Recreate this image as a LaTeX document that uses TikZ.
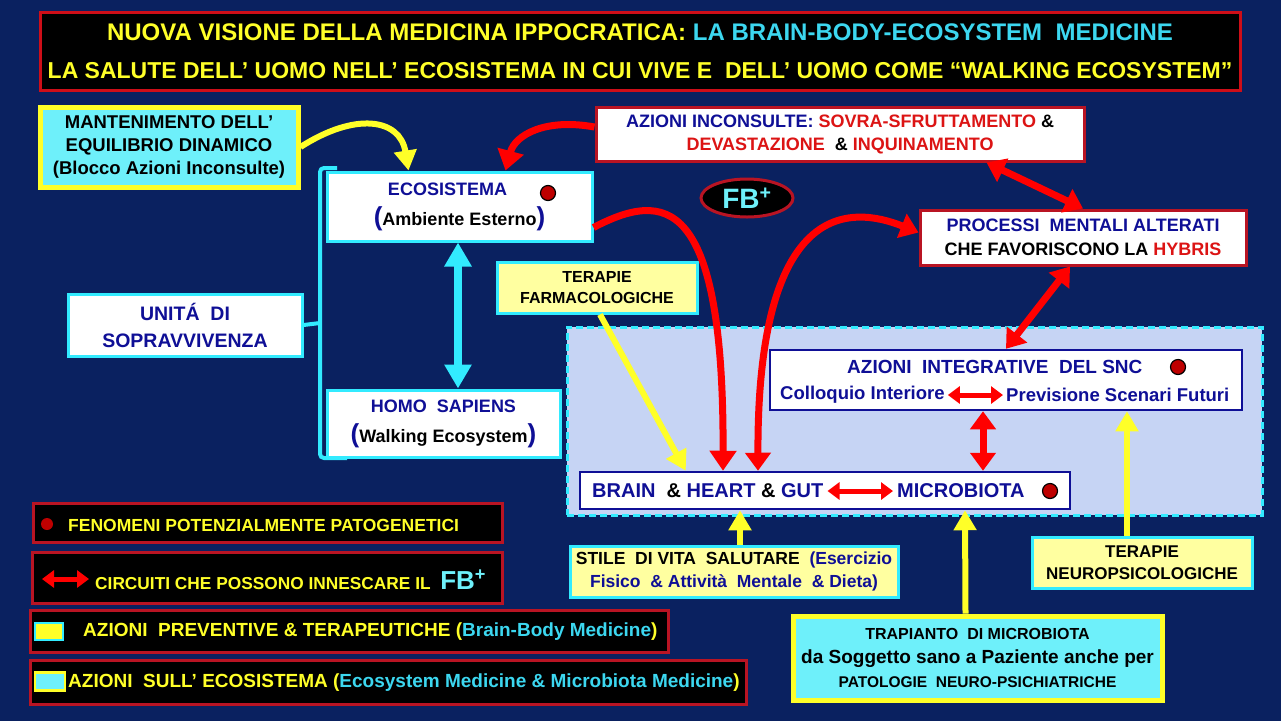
\documentclass[tikz,border=0pt]{standalone}
\usepackage{fontspec}
\setmainfont{Liberation Sans}
\usetikzlibrary{arrows.meta,shapes.geometric,positioning}

% --------- COLORI ----------
\definecolor{fondo}{RGB}{10,33,96}
\definecolor{giallo}{RGB}{255,255,40}
\definecolor{ciano}{RGB}{50,235,255}
\definecolor{cianotxt}{RGB}{60,215,240}
\definecolor{blu}{RGB}{15,15,150}
\definecolor{rosso}{RGB}{255,0,0}
\definecolor{rossotxt}{RGB}{220,20,20}
\definecolor{bordeaux}{RGB}{185,20,35}
\definecolor{giallino}{RGB}{255,255,160}
\definecolor{azzurrino}{RGB}{110,240,250}
\definecolor{lilla}{RGB}{198,212,244}
\definecolor{puntorosso}{RGB}{190,0,0}

\newcommand{\dimtesto}[2]{\fontsize{#1}{#2}\selectfont}
\newcommand{\parente}[1]{{\color{blu}\dimtesto{26}{30}#1}}

\tikzset{
  % riquadri
  bianco/.style={draw=ciano,line width=3pt,fill=white,align=center,inner sep=0pt},
  biancorosso/.style={draw=bordeaux,line width=3pt,fill=white,align=center,inner sep=0pt},
  biancoblu/.style={draw=blu,line width=2.5pt,fill=white,inner sep=0pt},
  terapia/.style={draw=ciano,line width=3pt,fill=giallino,align=center,inner sep=0pt},
  trapbox/.style={draw=giallo,line width=5pt,fill=azzurrino,align=center,inner sep=0pt},
  legenda/.style={draw=bordeaux,line width=3pt,fill=black,inner sep=0pt},
  testo/.style={inner sep=0pt,anchor=west},
  punto/.style={circle,draw=black,line width=1.2pt,fill=puntorosso,minimum size=15pt,inner sep=0pt},
  % frecce
  frossa/.style={rosso,line width=7pt,-{Triangle[length=20pt,width=26pt]}},
  frossadoppia/.style={rosso,line width=7pt,{Triangle[length=18pt,width=25pt]}-{Triangle[length=18pt,width=25pt]}},
  fpiccola/.style={rosso,line width=5pt,{Triangle[length=12pt,width=17pt]}-{Triangle[length=12pt,width=17pt]}},
  fgialla/.style={giallo,line width=6pt,-{Triangle[length=20pt,width=22pt]}},
  fciano/.style={ciano,line width=8pt,{Triangle[length=24pt,width=26pt]}-{Triangle[length=24pt,width=26pt]}},
}

\begin{document}
\begin{tikzpicture}[x=1pt,y=-1pt,font=\bfseries]

% --------- SFONDO ----------
\fill[fondo] (0,0) rectangle (1281,721);
\useasboundingbox (0,0) rectangle (1281,721);

% Titolo
\node[legenda,draw=bordeaux!70!red,minimum width=1200,minimum height=78,align=center,
      text=giallo,font=\bfseries\dimtesto{23}{38}] (titolo) at (640,51)
 {{\dimtesto{24}{38}NUOVA VISIONE DELLA MEDICINA IPPOCRATICA: \textcolor{cianotxt}{LA BRAIN-BODY-ECOSYSTEM\ \ MEDICINE}}\\
  LA SALUTE DELL’ UOMO NELL’ ECOSISTEMA IN CUI VIVE E\ \ DELL’ UOMO COME “WALKING ECOSYSTEM”};

% Graffa (unita' di sopravvivenza)
\draw[ciano,line width=4pt,rounded corners=4pt] (337,168) -- (320,168) -- (320,458) -- (347,458);
\coordinate (graffa) at (320,323);

% Pannello azzurro tratteggiato
\node[draw=ciano,line width=3pt,dash pattern=on 7pt off 4pt,fill=lilla,
      minimum width=695,minimum height=188,inner sep=0pt] (pannello) at (914.5,421) {};

% --------- RIQUADRI ----------
\node[trapbox,minimum width=258,minimum height=80,font=\bfseries\dimtesto{18.5}{23}] (mantenimento) at (169,147)
 {MANTENIMENTO DELL’\\EQUILIBRIO DINAMICO\\(Blocco Azioni Inconsulte)};

\node[bianco,minimum width=265,minimum height=69,font=\bfseries\dimtesto{18}{30}] (ecosistema) at (459.5,206.5)
 {\textcolor{blu}{ECOSISTEMA}\hspace*{24pt}\\\parente{(}Ambiente Esterno\parente{)}};
\node[punto] (puntoeco) at (548,193) {};

\node[bianco,minimum width=233,minimum height=67,font=\bfseries\dimtesto{18}{30}] (homo) at (443.5,423.5)
 {\textcolor{blu}{HOMO\ \ SAPIENS}\\\parente{(}Walking Ecosystem\parente{)}};

\node[bianco,minimum width=234,minimum height=62,text=blu,font=\bfseries\dimtesto{19.5}{27}] (unita) at (185,325)
 {UNITÁ\ \ DI\\SOPRAVVIVENZA};
\draw[ciano,line width=4pt] (unita.east) -- (graffa);

\node[biancorosso,minimum width=488,minimum height=54,font=\bfseries\dimtesto{18}{23}] (inconsulte) at (840,134)
 {\textcolor{blu}{AZIONI INCONSULTE:} \textcolor{rossotxt}{SOVRA-SFRUTTAMENTO} \&\\
  \textcolor{rossotxt}{DEVASTAZIONE}\ \ \& \textcolor{rossotxt}{INQUINAMENTO}};

\node[ellipse,draw=bordeaux,line width=3pt,fill=black,minimum width=92,minimum height=38,inner sep=0pt,
      text=azzurrino,font=\bfseries\dimtesto{28}{28}] (fb) at (747,198) {FB\textsuperscript{+}};

\node[biancorosso,minimum width=326,minimum height=55,font=\bfseries\dimtesto{18}{24}] (processi) at (1083,237.5)
 {\textcolor{blu}{PROCESSI\ \ MENTALI ALTERATI}\\CHE FAVORISCONO LA \textcolor{rossotxt}{HYBRIS}};

\node[terapia,minimum width=200,minimum height=51,font=\bfseries\dimtesto{16}{21}] (farmaco) at (597,287.5)
 {TERAPIE\\FARMACOLOGICHE};

% Azioni integrative del SNC
\node[biancoblu,minimum width=472,minimum height=60] (integrative) at (1006,380) {};
\node[testo,text=blu,font=\bfseries\dimtesto{19}{19}] (snc) at (847,367) {AZIONI\ \ INTEGRATIVE\ \ DEL SNC};
\node[punto] (puntosnc) at (1178,367) {};
\node[testo,text=blu,font=\bfseries\dimtesto{18.5}{18.5}] (colloquio) at (780,395) {Colloquio Interiore};
\node[testo,text=blu,font=\bfseries\dimtesto{18.5}{18.5}] (previsione) at (1006,395) {Previsione Scenari Futuri};
\draw[fpiccola] ([xshift=3]colloquio.east) -- ([xshift=-3]previsione.west);

% Brain & heart & gut
\node[biancoblu,minimum width=490,minimum height=37] (brain) at (825,490.5) {};
\node[testo,font=\bfseries\dimtesto{20}{20}] (bhg) at (592,491)
 {\textcolor{blu}{BRAIN}\ \ \&\ \textcolor{blu}{HEART} \&\ \textcolor{blu}{GUT}};
\node[testo,text=blu,font=\bfseries\dimtesto{20}{20}] (microbiota) at (897,491) {MICROBIOTA};
\node[punto] (puntobrain) at (1050,491) {};
\draw[fpiccola] ([xshift=4]bhg.east) -- ([xshift=-4]microbiota.west);

\node[terapia,minimum width=220,minimum height=51,font=\bfseries\dimtesto{17}{22}] (neuro) at (1142,562.5)
 {TERAPIE\\NEUROPSICOLOGICHE};

\node[terapia,minimum width=328,minimum height=51,font=\bfseries\dimtesto{17.5}{23}] (stile) at (734,571.5)
 {STILE\ \ DI VITA\ \ SALUTARE\ \ \textcolor{blu}{(Esercizio}\\
  \textcolor{blu}{Fisico\ \ \&\ Attività\ \ Mentale\ \ \&\ Dieta)}};

\node[trapbox,minimum width=369,minimum height=84,font=\bfseries\dimtesto{19}{24}] (trapianto) at (977.5,658)
 {{\dimtesto{16}{24}TRAPIANTO\ \ DI MICROBIOTA}\\
  da Soggetto sano a Paziente anche per\\
  {\dimtesto{15.5}{24}PATOLOGIE\ \ NEURO-PSICHIATRICHE}};

% --------- FRECCE ----------
\coordinate (asse) at (458,0);
\draw[fciano] (ecosistema.south -| asse) -- (homo.north -| asse);

\draw[fgialla] (mantenimento.east) .. controls (355,112) and (400,118) .. ([xshift=-51]ecosistema.north);
\draw[frossa] ([yshift=7]inconsulte.west) .. controls (545,118) and (515,135) .. ([xshift=46]ecosistema.north);
\draw[frossa] ([yshift=-21]ecosistema.east) .. controls (665,190) and (724,195) .. ([xshift=-102]brain.north);
\draw[frossadoppia] ([xshift=-67]brain.north) .. controls (757,200) and (850,205) .. ([yshift=5]processi.west);

\draw[frossadoppia] ([xshift=-99]inconsulte.south east) -- (processi.north);
\draw[frossadoppia] ([xshift=-13]processi.south) -- (integrative.north);
\draw[frossadoppia] ([xshift=-23]integrative.south) -- ([xshift=158]brain.north);

\draw[fgialla] ([xshift=3]farmaco.south) -- ([xshift=107]brain.north west);
\coordinate (neurotop) at ([xshift=-15]neuro.north);
\draw[fgialla] (neurotop) -- (neurotop |- integrative.south);
\draw[fgialla] ([xshift=6]stile.north) -- ([xshift=-85]brain.south);
\draw[fgialla] ([xshift=-12]trapianto.north) -- ([xshift=140]brain.south);

% --------- LEGENDA ----------
\node[legenda,minimum width=469,minimum height=39] (legenda1) at (267.5,522.5) {};
\node[circle,fill=puntorosso,minimum size=12,inner sep=0pt] (legpunto) at (47,524) {};
\node[testo,text=giallo,font=\bfseries\dimtesto{17.5}{17.5}] (legtesto1) at (68,525)
 {FENOMENI POTENZIALMENTE PATOGENETICI};

\node[legenda,minimum width=470,minimum height=51] (legenda2) at (267,577.5) {};
\coordinate (legA) at (42,579);
\coordinate (legB) at (89,579);
\draw[fpiccola] (legA) -- (legB);
\node[testo,text=giallo,font=\bfseries\dimtesto{17.3}{17.3}] (legtesto2) at (95,580)
 {CIRCUITI CHE POSSONO INNESCARE IL\ \ \textcolor{azzurrino}{\dimtesto{26}{26}FB\textsuperscript{+}}};

\node[legenda,minimum width=638,minimum height=42] (legenda3) at (349,631) {};
\node[draw=ciano,line width=2pt,fill=giallo,minimum width=28,minimum height=17,inner sep=0pt] (legq3) at (49,631.5) {};
\node[testo,text=giallo,font=\bfseries\dimtesto{19}{19}] (legtesto3) at (83,632)
 {AZIONI\ \ PREVENTIVE \& TERAPEUTICHE (\textcolor{cianotxt}{Brain-Body Medicine})};

\node[legenda,minimum width=716,minimum height=44] (legenda4) at (388,682) {};
\node[draw=giallo,line width=2.5pt,fill=azzurrino,minimum width=30,minimum height=18,inner sep=0pt] (legq4) at (50,681.5) {};
\node[testo,text=giallo,font=\bfseries\dimtesto{19}{19}] (legtesto4) at (68,683)
 {AZIONI\ \ SULL’ ECOSISTEMA (\textcolor{cianotxt}{Ecosystem Medicine \& Microbiota Medicine})};

\end{tikzpicture}
\end{document}
